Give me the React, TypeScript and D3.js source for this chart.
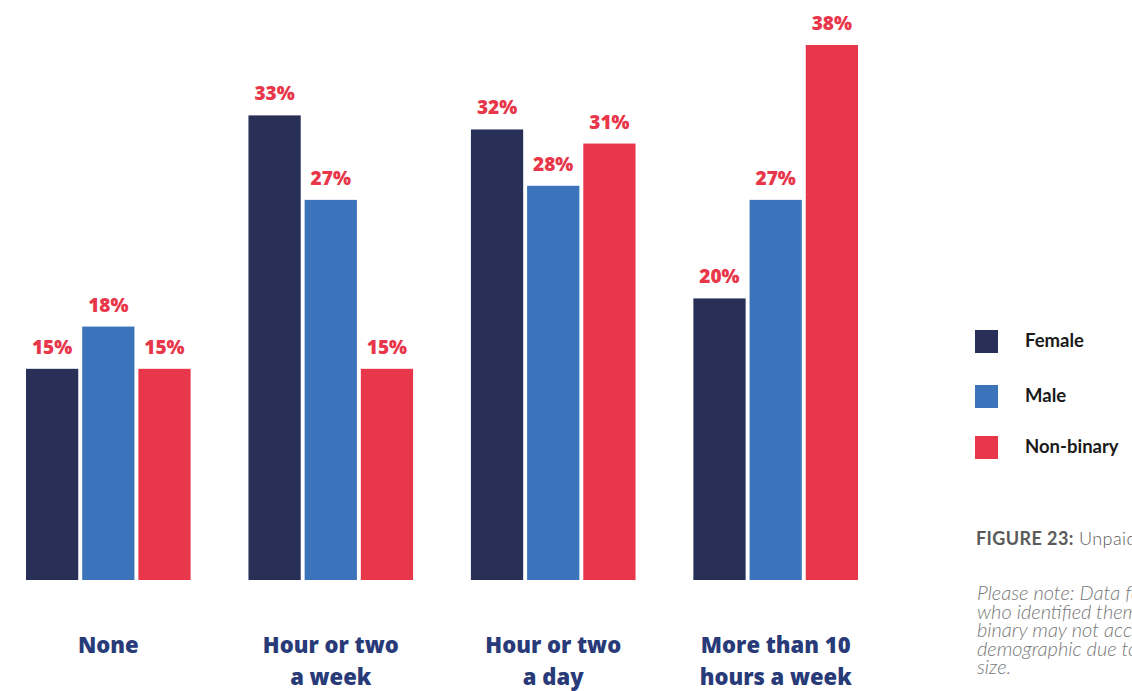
import React from "react";
import * as d3 from "d3";

const categories = [["None"], ["Hour or two", "a week"], ["Hour or two", "a day"], ["More than 10", "hours a week"]];
const seriesNames = ["Female", "Male", "Non-binary"];
const female = [15, 33, 32, 20];
const male = [18, 27, 28, 27];
const nonBinary = [15, 15, 31, 38];
const seriesColors = ["#283058", "#3b74bb", "#e8364a"];
const captionBold = "FIGURE 23:";
const captionRest = " Unpaid caring hours per week by gender";
const noteLines = [
  "Please note: Data for those",
  "who identified themselves as non-",
  "binary may not accurately represent this",
  "demographic due to the small sample",
  "size.",
];

export default function App() {
  const W = 1132, H = 691;
  const series = [female, male, nonBinary];
  const x0 = d3.scaleBand<number>().domain(d3.range(categories.length)).range([26, 858]).paddingInner(0.26).paddingOuter(0);
  const x1 = d3.scaleBand<number>().domain(d3.range(series.length)).range([0, x0.bandwidth()]).paddingInner(0.07);
  const y = d3.scaleLinear().domain([0, 38]).range([580, 45]);
  const valueFont = "'Open Sans', sans-serif";
  return (
    <svg width={W} height={H} style={{ position: "absolute", left: 0, top: 0, background: "#fff" }}>
      {categories.map((cat, ci) => (
        <g key={ci} transform={`translate(${x0(ci)},0)`}>
          {series.map((s, si) => (
            <g key={si}>
              <rect x={x1(si)} y={y(s[ci])} width={x1.bandwidth()} height={y(0) - y(s[ci])} fill={seriesColors[si]} />
              <text x={(x1(si) as number) + x1.bandwidth() / 2} y={y(s[ci]) - 15} textAnchor="middle"
                fontFamily={valueFont} fontWeight={800} fontSize={19} fill="#e8364a">{s[ci]}%</text>
            </g>
          ))}
          {cat.map((line, li) => (
            <text key={li} x={x0.bandwidth() / 2} y={653 + li * 32} textAnchor="middle"
              fontFamily={valueFont} fontWeight={800} fontSize={22} fill="#283a78">{line}</text>
          ))}
        </g>
      ))}
      {seriesNames.map((n, i) => {
        const ly = [330, 385, 436][i];
        return (
          <g key={n}>
            <rect x={975} y={ly} width={23} height={23} fill={seriesColors[i]} />
            <text x={1025} y={ly + 17} fontFamily="Lato, sans-serif" fontWeight={700} fontSize={18.5} fill="#1a1a1a">{n}</text>
          </g>
        );
      })}
      <text x={976} y={545} fontFamily="Lato, sans-serif" fontSize={18} letterSpacing={0.4} fill="#5a5a5a">
        <tspan fontWeight={700}>{captionBold}</tspan>
        <tspan fontWeight={300}>{captionRest}</tspan>
      </text>
      {noteLines.map((l, i) => (
        <text key={i} x={977} y={600 + i * 18.5} fontFamily="Lato, sans-serif" fontStyle="italic" fontWeight={300}
          fontSize={20} fill="#777">{l}</text>
      ))}
    </svg>
  );
}
